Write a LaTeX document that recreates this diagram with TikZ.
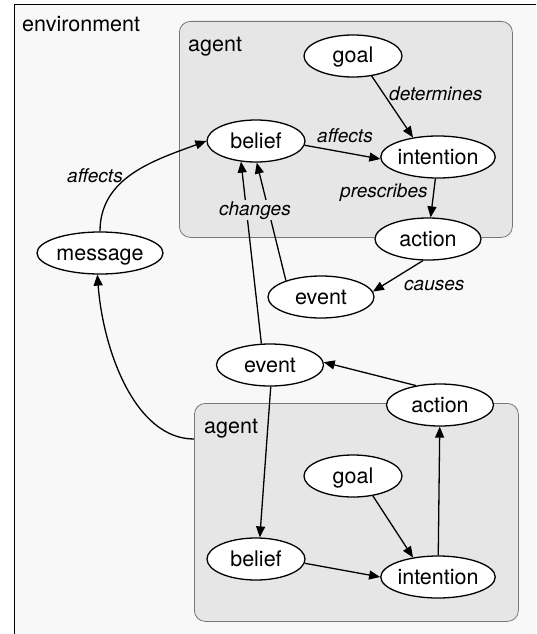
\documentclass[tikz,border=0pt]{standalone}
\usepackage{fontspec}
\setmainfont{TeX Gyre Heros}
\usetikzlibrary{shapes.geometric,arrows.meta}
\definecolor{envbg}{HTML}{F8F8F8}
\definecolor{agentbg}{HTML}{E6E6E6}
\definecolor{agentline}{HTML}{777777}
\begin{document}
\begin{tikzpicture}[x=1pt,y=-1pt,
  ell/.style={ellipse,draw,fill=white,line width=1.3pt,inner sep=0pt,minimum height=42pt,
    text height=14pt,text depth=0pt,font=\fontsize{21.5}{24}\selectfont},
  conn/.style={-{Triangle[length=11pt,width=9pt]},line width=1.3pt},
  lbl/.style={font=\fontsize{19}{22}\selectfont\itshape,inner sep=0pt,anchor=base west},
  title/.style={font=\fontsize{21.5}{24}\selectfont,inner sep=0pt,anchor=base west},
  agentbox/.style={draw=agentline,fill=agentbg,line width=0.8pt,rounded corners=11pt,anchor=north west,inner sep=0pt}]
\useasboundingbox (0,0) rectangle (536,634);
\clip (0,0) rectangle (536,634);
\node[draw,fill=envbg,line width=1.5pt,anchor=north west,inner sep=0pt,minimum width=560pt,minimum height=660pt] (env) at (13.5,4) {};
\node[agentbox,minimum width=333pt,minimum height=216pt] (agentA) at (179,21) {};
\node[agentbox,minimum width=324pt,minimum height=218pt] (agentB) at (194,403) {};
\node[title] (envlabel) at (22,32) {environment};
\node[title] (agentAlabel) at (188,52) {agent};
\node[title] (agentBlabel) at (204,433) {agent};
% nodes
\node[ell,minimum width=98pt] (goalA) at (353,56) {goal};
\node[ell,minimum width=98pt] (beliefA) at (256,141) {belief};
\node[ell,minimum width=108pt] (intentionA) at (438,157) {intention};
\node[ell,minimum width=106pt] (actionA) at (428,239) {action};
\node[ell,minimum width=106pt] (eventA) at (321,297) {event};
\node[ell,minimum width=126pt] (message) at (100,253) {message};
\node[ell,minimum width=107pt] (eventB) at (270,365) {event};
\node[ell,minimum width=107pt] (actionB) at (440,405) {action};
\node[ell,minimum width=98pt] (goalB) at (353,476) {goal};
\node[ell,minimum width=108pt] (intentionB) at (438,577) {intention};
\node[ell,minimum width=98pt] (beliefB) at (256,559) {belief};
% connectors
\draw[conn] (goalA.-47) -- (intentionA.142);
\draw[conn] (beliefA.-5) -- (intentionA.182);
\draw[conn] (intentionA) -- (actionA);
\draw[conn] (actionA.257) -- (eventA.6);
\draw[conn] (eventA.155) -- (beliefA.272);
\draw[conn] (eventB.112) -- (beliefA.234);
\draw[conn] (eventB.272) -- (beliefB.80);
\draw[conn] (actionB.141) -- (eventB.3);
\draw[conn] (intentionB) -- (actionB);
\draw[conn] (goalB.-45) -- (intentionB.142);
\draw[conn] (beliefB.-5) -- (intentionB.180);
\draw[conn] (message.north) .. controls (100,177) and (155,160) .. (beliefA.west);
\coordinate (mstart) at (194,439);
\draw[conn] (mstart) .. controls (135,439) and (103,350) .. (message.263);
% labels
\node[lbl] (ldet) at (389,100) {determines};
\node[lbl] (laff1) at (317,142) {affects};
\node[lbl] (lpre) at (340,197) {prescribes};
\node[lbl,fill=agentbg,inner sep=1pt] (lchg) at (218,215) {changes};
\node[lbl] (lcau) at (404,290) {causes};
\node[lbl] (laff2) at (67,182) {affects};
\end{tikzpicture}
\end{document}
